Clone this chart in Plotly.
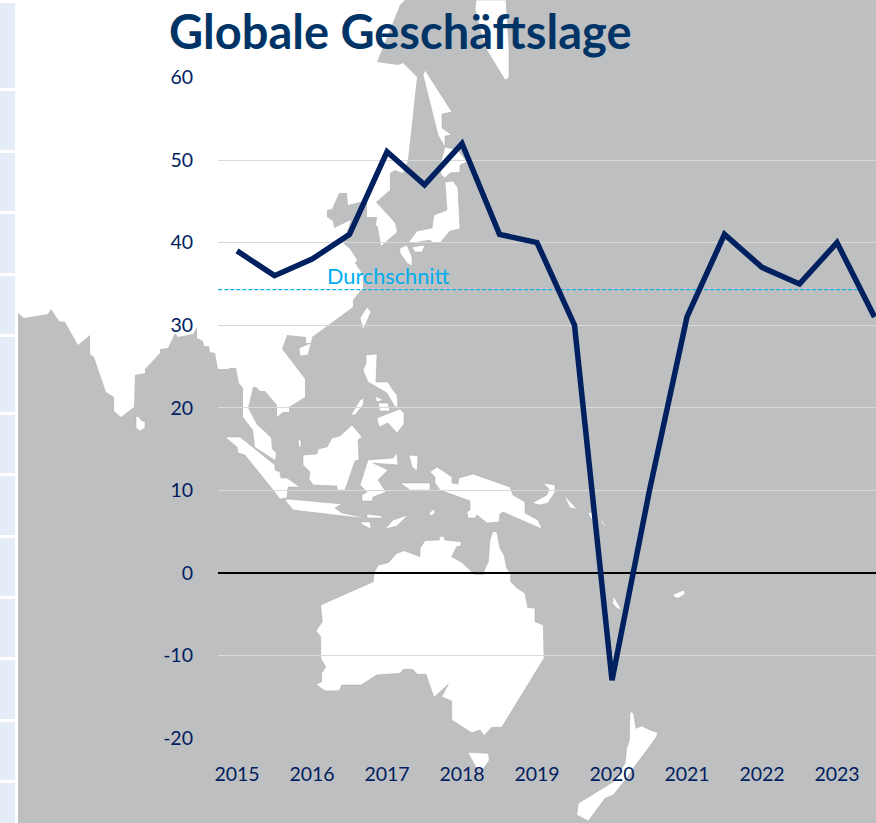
import plotly.graph_objects as go

W, H = 876, 823
PLOT_L, PLOT_T, PLOT_B = 218, 77.5, 738

# --- data ---
year_labels = ["2015", "2016", "2017", "2018", "2019", "2020", "2021", "2022", "2023"]
half_years = list(range(18))
geschaeftslage = [39, 36, 38, 41, 51, 47, 52, 41, 40, 30, -13, 10, 31, 41, 37, 35, 40, 31]
durchschnitt_x = [-0.5, 16.7]
durchschnitt = [34.3, 34.3]
y_ticks = [60, 50, 40, 30, 20, 10, 0, -10, -20]
y_tick_labels = ["60", "50", "40", "30", "20", "10", "0", "-10", "-20"]

# --- decorative background map outlines, page pixels ---
asia = [(18,0),(405,0),(400,5),(377,62),(398,65),(403,63),(417,77),(408,160),(403,173),(395,170),(390,173),
        (390,190),(376,202),(395,223),(397,232),(381,246),(378,227),(376,225),(377,217),(367,217),(367,203),
        (360,202),(348,205),(347,193),(339,193),(332,209),(327,210),(327,217),(333,221),(334,228),(351,220),
        (343,243),(350,249),(357,260),(355,263),(363,275),(363,289),(360,291),(353,300),(353,307),(312,337),
        (311,343),(306,343),(306,337),(287,335),(282,349),(305,379),(305,397),(289,407),(289,412),(283,412),
        (277,417),(277,405),(265,391),(260,391),(256,387),(253,387),(248,408),(257,425),(263,430),(271,438),
        (272,449),(276,453),(275,460),(255,447),(253,430),(243,417),(243,388),(239,383),(236,368),(230,368),
        (228,369),(218,369),(215,353),(210,352),(209,346),(204,346),(203,341),(197,338),(197,327),(193,334),
        (178,337),(175,333),(168,348),(160,349),(160,353),(145,369),(145,373),(135,375),(134,407),(121,417),
        (114,411),(114,397),(106,392),(94,357),(90,354),(90,335),(78,345),(65,322),(59,321),(51,309),(48,314),
        (24,318),(18,313)]
islands = [
    [(367,307),(371,312),(363,330),(360,318)],
    [(400,248),(407,245),(412,257),(412,266),(407,263),(400,253)],
    [(412,247),(425,245),(422,252),(415,252)],
    [(408,243),(417,231),(432,228),(434,215),(447,210),(445,182),(453,181),(458,188),(460,229),(450,231),
     (440,243),(433,243),(430,240),(413,243)],
    [(423,75),(425,70),(452,112),(442,114),(442,128),(452,135),(445,136),(445,147),(438,135)],
    [(445,147),(458,150),(467,162),(460,165),(460,172),(450,173),(445,178),(441,175),(440,165)],
    [(476,0),(475,10),(485,47),(505,80),(509,78),(509,47),(506,0)],
    [(299,348),(311,343),(308,355),(300,356)],
    [(142,421),(145,421),(145,428),(140,431),(136,428),(136,417),(138,416)],
    [(225,437),(240,437),(275,465),(275,470),(280,472),(281,478),(287,478),(300,487),(288,487),(287,498),
     (280,499),(273,490),(257,470),(245,455),(238,453),(237,447)],
    [(285,500),(288,499),(342,504),(335,508),(342,513),(362,517),(362,518),(335,515),(293,510)],
    [(367,514),(382,516),(382,518),(367,518)],
    [(360,522),(370,522),(371,529),(363,525)],
    [(386,528),(393,520),(408,515),(397,526),(385,529)],
    [(352,425),(362,437),(358,440),(359,460),(355,461),(345,490),(337,490),(337,486),(313,485),(309,479),
     (310,472),(303,465),(303,455),(317,454),(318,449),(327,447),(332,438),(340,436)],
    [(298,440),(301,440),(301,447),(299,447)],
    [(397,453),(398,465),(373,463),(388,470),(378,480),(386,492),(373,497),(372,501),(362,501),(362,495),
     (367,492),(360,485),(368,460),(393,458)],
    [(409,455),(418,456),(417,471),(412,467)],
    [(400,483),(430,483),(430,490),(410,490)],
    [(366,355),(377,354),(376,382),(388,382),(393,390),(397,395),(398,407),(395,407),(387,393),(368,382),
     (363,370),(366,363)],
    [(360,400),(364,398),(363,405),(355,415),(351,415)],
    [(375,396),(383,400),(377,402)],
    [(378,403),(388,403),(390,411),(380,411)],
    [(377,418),(400,409),(404,413),(404,424),(397,433),(388,423),(379,427)],
    [(430,472),(437,467),(452,477),(452,483),(458,484),(459,478),(473,474),(510,487),(513,495),(525,502),
     (525,513),(538,520),(542,529),(503,512),(500,514),(499,522),(487,523),(477,515),(475,518),(468,518),
     (467,512),(470,510),(470,501),(440,490),(435,483),(435,477)],
    [(543,483),(555,485),(555,492),(548,503),(540,505),(532,503),(547,495),(549,489)],
    [(564,495),(577,509),(570,508)],
    [(588,513),(592,512),(597,524),(593,522)],
    [(600,517),(607,528),(602,523)],
    [(429,513),(434,509),(435,513),(431,516)],
]
crop_outlines = [
    [(282,398),(280,425),(122,495),(127,545),(108,572),(122,590),(122,655),(137,680),(125,700),(125,725),
     (108,733),(135,753),(178,752),(185,735),(243,735),(290,705),(360,700),(370,688),(398,688),(412,703),
     (438,703),(462,772),(505,733),(485,770),(515,783),(515,840),(575,878),(600,870),(612,887),(635,862),
     (665,862),(792,655),(790,555),(765,545),(765,505),(743,502),(735,460),(712,445),(692,425),(692,400),
     (680,385),(672,345),(660,325),(650,275),(638,275),(630,300),(625,365),(613,390),(610,403),(583,403),
     (545,367),(515,350),(530,320),(543,318),(543,305),(495,300),(490,288),(478,290),(478,300),(435,302),
     (420,325),(420,350),(372,332),(350,340),(325,368),(295,375)],
    [(563,937),(625,940),(628,960),(610,987),(590,985)],
    [(1050,815),(1060,818),(1068,865),(1085,858),(1110,870),(1133,878),(1130,890),(1060,985),(1040,1015),
     (1000,1065),(975,1075),(925,1143),(890,1125),(895,1090),(1000,1025),(1035,970),(1040,925),(1048,900)],
    [(1000,467),(1025,510),(1010,505),(998,490)],
    [(1180,463),(1212,450),(1215,462),(1195,475),(1182,472)],
]
islands += [[(280 + x / 3, 440 + y / 3) for x, y in poly] for poly in crop_outlines]

stripe_edges = [3, 91, 153, 214, 276, 337, 415, 476, 538, 599, 660, 722, 783, 826]

GREY = "#BEBFC1"
NAVY = "#002060"


def path(pts):
    return "M" + "L".join(f"{x / W:.5f},{1 - y / H:.5f}" for x, y in pts) + "Z"


def poly_shape(pts, color, outlined=False):
    return dict(type="path", path=path(pts), xref="paper", yref="paper", layer="below",
                fillcolor=color, line=dict(color="#A9AAAD", width=0.5) if outlined else dict(width=0))


shapes = [poly_shape([(18, 0), (W, 0), (W, H), (18, H)], GREY), poly_shape(asia, "white")]
shapes += [poly_shape(p, "white", outlined=True) for p in islands]
for top, bottom in zip(stripe_edges[:-1], stripe_edges[1:]):
    shapes.append(poly_shape([(0, top), (15, top), (15, bottom - 3), (0, bottom - 3)], "#E4ECF7"))

fig = go.Figure()
fig.add_trace(go.Scatter(x=durchschnitt_x, y=durchschnitt, mode="lines",
                         line=dict(color="#14AEEA", width=1.3, dash="4px,2px"), hoverinfo="skip"))
fig.add_trace(go.Scatter(x=half_years, y=geschaeftslage, mode="lines",
                         line=dict(color=NAVY, width=5.5)))

fig.update_layout(
    width=W, height=H,
    margin=dict(l=0, r=0, t=0, b=0),
    paper_bgcolor="white", plot_bgcolor="rgba(0,0,0,0)",
    showlegend=False,
    font=dict(family="Lato", size=19.5, color=NAVY),
    shapes=shapes,
    annotations=[
        dict(text="Globale Geschäftslage", xref="paper", yref="paper",
             x=167 / W, y=1 - 31 / H, xanchor="left", yanchor="middle", showarrow=False,
             font=dict(family="Lato", size=47, color="#003366", weight="bold")),
        dict(text="Durchschnitt", xref="x", yref="y", x=4.03, y=35.9, showarrow=False,
             xanchor="center", yanchor="middle", font=dict(family="Lato", size=21.7, color="#00AEEF")),
    ],
)
fig.update_xaxes(
    domain=[PLOT_L / W, 1], range=[-0.507, 17.04], automargin=False,
    tickmode="array", tickvals=half_years[::2], ticktext=year_labels,
    showgrid=False, zeroline=False, showline=False, ticks="", ticklabelstandoff=22,
)
fig.update_yaxes(
    domain=[1 - PLOT_B / H, 1 - PLOT_T / H], range=[-20, 60], automargin=False,
    tickmode="array", tickvals=y_ticks, ticktext=y_tick_labels,
    showgrid=True, gridcolor="#D9D9D9", gridwidth=1,
    zeroline=True, zerolinecolor="black", zerolinewidth=2,
    showline=False, ticks="", ticklabelstandoff=24,
)
fig.write_html("out.html", config=dict(displayModeBar=False),
               post_script="document.body.style.margin='0';document.documentElement.style.overflow='hidden';")
